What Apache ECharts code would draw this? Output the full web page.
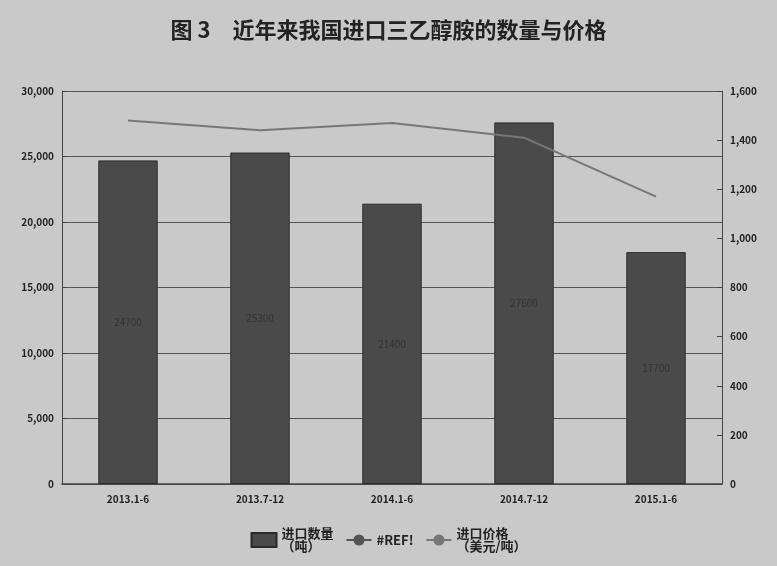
<!DOCTYPE html>
<html><head><meta charset="utf-8">
<script src="https://cdn.jsdelivr.net/npm/echarts@6/dist/echarts.min.js"></script>
<style>html,body{margin:0;background:#c9c9c9}#chart-container{width:777px;height:566px}</style>
</head><body><div id="chart-container"></div>
<script>
var categories = ['2013.1-6', '2013.7-12', '2014.1-6', '2014.7-12', '2015.1-6'];
var quantity = [24700, 25300, 21400, 27600, 17700];
var price = [1480, 1440, 1470, 1410, 1170];

var myChart = echarts.init(document.getElementById('chart-container'));
var font = '"Noto Sans CJK SC", "DejaVu Serif", serif';

var option = {
  backgroundColor: '#c9c9c9',
  textStyle: { fontFamily: font },
  title: {
    text: '图 3　近年来我国进口三乙醇胺的数量与价格',
    left: 'center', top: 14,
    textStyle: { fontSize: 22, color: '#222', fontWeight: 'bold', fontFamily: font }
  },
  legend: {
    bottom: 8, left: 'center', itemGap: 12,
    textStyle: { fontSize: 13, color: '#222', fontWeight: 'bold' },
    data: [
      { name: '进口数量\n（吨）', icon: 'rect' },
      { name: '#REF!' },
      { name: '进口价格\n（美元/吨）' }
    ]
  },
  grid: { left: 62, right: 55, top: 91, bottom: 82 },
  xAxis: {
    type: 'category', data: categories,
    axisLine: { lineStyle: { color: '#444', width: 1.5 } },
    axisTick: { show: false },
    axisLabel: { color: '#222', fontSize: 10, fontWeight: 'bold', margin: 10 }
  },
  yAxis: [
    {
      type: 'value', min: 0, max: 30000, interval: 5000,
      axisLine: { show: true, lineStyle: { color: '#444' } },
      axisTick: { show: true, inside: true },
      axisLabel: { color: '#222', fontSize: 10, fontWeight: 'bold' },
      splitLine: { lineStyle: { color: '#555', width: 1 } }
    },
    {
      type: 'value', min: 0, max: 1600, interval: 200,
      axisLine: { show: true, lineStyle: { color: '#444' } },
      axisTick: { show: true, inside: true },
      axisLabel: { color: '#222', fontSize: 10, fontWeight: 'bold' },
      splitLine: { show: false }
    }
  ],
  series: [
    {
      name: '进口数量\n（吨）', type: 'bar', data: quantity, barWidth: '45%',
      itemStyle: { color: '#4a4a4a', borderColor: '#2a2a2a', borderWidth: 1 },
      label: { show: true, position: 'inside', color: '#333', fontSize: 10 }
    },
    {
      name: '#REF!', type: 'line', data: [], lineStyle: { color: '#555', width: 1 },
      itemStyle: { color: '#555' }, symbol: 'none'
    },
    {
      name: '进口价格\n（美元/吨）', type: 'line', yAxisIndex: 1, data: price,
      symbol: 'none', lineStyle: { color: '#777', width: 2 }, itemStyle: { color: '#777' },
      label: { show: true, position: 'top', distance: 14, color: '#222', fontSize: 10, fontWeight: 'bold' }
    }
  ]
};
myChart.setOption(option);
window.addEventListener('resize', myChart.resize);
</script></body></html>
